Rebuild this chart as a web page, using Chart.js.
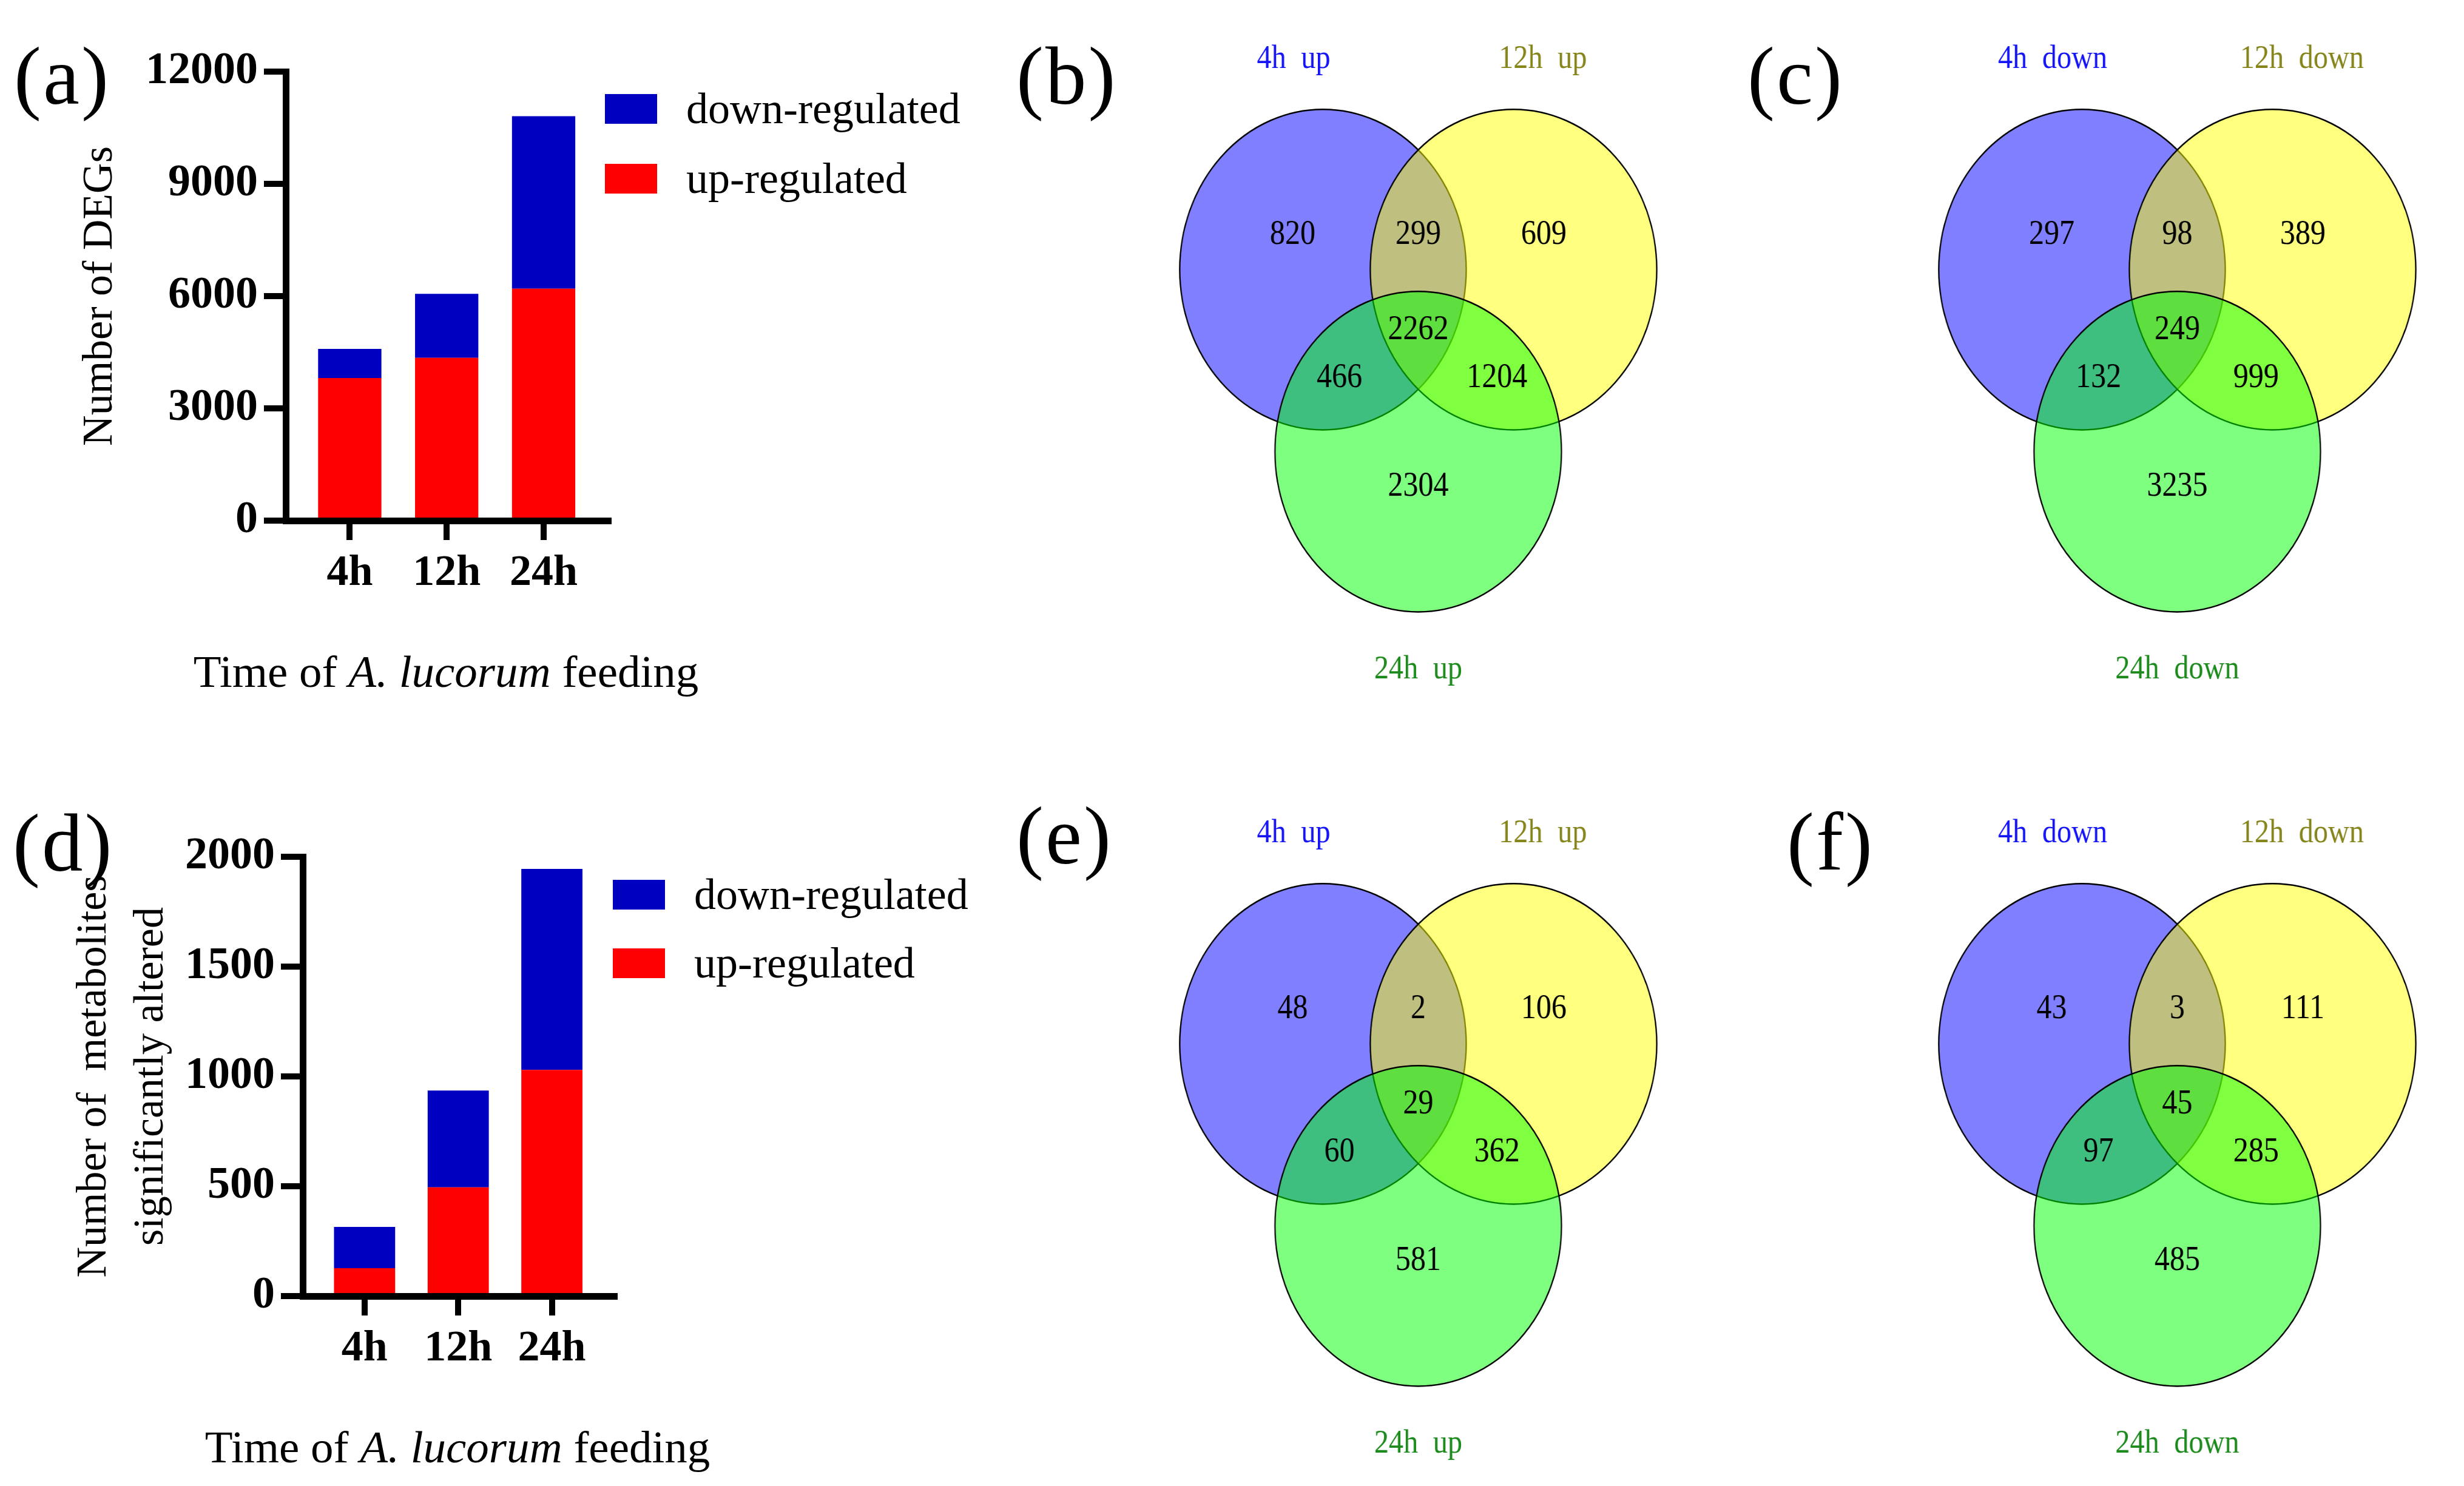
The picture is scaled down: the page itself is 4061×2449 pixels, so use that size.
<!DOCTYPE html>
<html>
<head>
<meta charset="utf-8">
<script src="https://cdn.jsdelivr.net/npm/chart.js@4.4.0/dist/chart.umd.min.js"></script>
<style>
  body { margin: 0; width: 4061px; height: 2449px; background: #fff; position: relative; overflow: hidden;
         font-family: "Liberation Serif", "Times New Roman", serif; color: #000; }
  .box { position: absolute; }
  .tag { position: absolute; font-size: 135px; line-height: 1; letter-spacing: 3px; }
  .xtitle { position: absolute; width: 900px; text-align: center; font-size: 75px; line-height: 1; white-space: nowrap; }
  .legend { position: absolute; font-size: 72px; }
  .lg-row { display: flex; align-items: center; height: 49px; white-space: nowrap; }
  .lg-sw { display: inline-block; width: 86px; height: 49px; margin-right: 48px; }
  .venn { position: absolute; width: 1162px; height: 1162px; transform: scaleX(0.894); transform-origin: 0 0; }
</style>
</head>
<body>

<div class="tag" style="left:23px;top:58px">(a)</div>
<div class="tag" style="left:1675px;top:58px">(b)</div>
<div class="tag" style="left:2880px;top:58px">(c)</div>
<div class="tag" style="left:21px;top:1322px">(d)</div>
<div class="tag" style="left:1675px;top:1310px">(e)</div>
<div class="tag" style="left:2945px;top:1320px">(f)</div>

<div class="box" style="left:0;top:0;width:1040px;height:1000px"><canvas id="chartA"></canvas></div>
<div class="box" style="left:0;top:1294px;width:1050px;height:984px"><canvas id="chartD"></canvas></div>

<div class="legend" id="legendA" style="left:997px;top:155px"></div>
<div class="legend" id="legendD" style="left:1010px;top:1450px"></div>

<div class="xtitle" style="left:285px;top:1069px">Time of <i>A. lucorum</i> feeding</div>
<div class="xtitle" style="left:304px;top:2347px">Time of <i>A. lucorum</i> feeding</div>

<div class="venn" style="left:1818px;top:3px"><canvas id="vennB"></canvas></div>
<div class="venn" style="left:3069px;top:3px"><canvas id="vennC"></canvas></div>
<div class="venn" style="left:1818px;top:1279px"><canvas id="vennE"></canvas></div>
<div class="venn" style="left:3069px;top:1279px"><canvas id="vennF"></canvas></div>

<script>
// bar charts (a) and (d)
const timeLabels = ['4h', '12h', '24h'];
const timeIndex = [1, 2, 3];
const seriesNames = ['up-regulated', 'down-regulated'];
const seriesColors = ['#ff0000', '#0000c0'];

const degUp = [3810, 4350, 6200];
const degDown = [780, 1710, 4610];
const degTicks = [0, 3000, 6000, 9000, 12000];

const metUp = [127, 495, 1030];
const metDown = [188, 441, 915];
const metTicks = [0, 500, 1000, 1500, 2000];

// venn diagrams (b) (c) (e) (f): set centres and region label spots in radius units
const vennSetX = [-0.665, 0.665, 0];
const vennSetY = [0.379, 0.379, -0.757];
const vennRadius = 1;
const vennFill = ['rgba(0,0,255,0.5)', 'rgba(255,255,0,0.5)', 'rgba(0,255,0,0.5)'];
const regionX = [-0.877, 0, 0.877, 0, -0.55, 0.55, 0];
const regionY = [0.595, 0.595, 0.595, 0, -0.30, -0.30, -0.977];
const countsB = [820, 299, 609, 2262, 466, 1204, 2304];
const countsC = [297, 98, 389, 249, 132, 999, 3235];
const countsE = [48, 2, 106, 29, 60, 362, 581];
const countsF = [43, 3, 111, 45, 97, 285, 485];
const setNamesUp = ['4h up', '12h up', '24h up'];
const setNamesDown = ['4h down', '12h down', '24h down'];
const setTitleX = [-0.87, 0.87, 0];
const setTitleY = [1.69, 1.69, -2.12];
const setTitleColors = ['#1414f5', '#85851c', '#1c8a1c'];

Chart.defaults.font.family = '"Liberation Serif", "Times New Roman", serif';
Chart.defaults.color = '#000';

function barChart(id, up, down, ticks, yTitle, axisLeft, titlePad, titleLine) {
    const values = [up, down];
    return new Chart(document.getElementById(id), {
        type: 'bar',
        data: {
            datasets: values.map((v, s) => ({
                label: seriesNames[s],
                data: timeIndex.map((x, i) => ({ x: x, y: v[i] })),
                backgroundColor: seriesColors[s],
                borderWidth: 0,
                categoryPercentage: 1,
                barPercentage: 0.653
            }))
        },
        options: {
            responsive: true,
            maintainAspectRatio: false,
            animation: false,
            events: [],
            layout: { padding: { top: 118, right: 37, left: 0, bottom: 0 } },
            scales: {
                x: {
                    type: 'linear',
                    stacked: true,
                    offset: false,
                    bounds: 'data',
                    min: 0.34,
                    max: 3.67,
                    afterBuildTicks: s => { s.ticks = timeIndex.map(v => ({ value: v })); },
                    afterFit: s => { s.height = 142; },
                    ticks: {
                        callback: v => timeLabels[timeIndex.indexOf(v)],
                        font: { size: 72, weight: 'bold' },
                        padding: 12,
                        maxRotation: 0,
                        autoSkip: false
                    },
                    grid: { offset: false, drawOnChartArea: false, drawTicks: true, tickLength: 32, tickWidth: 10, tickColor: '#000', lineWidth: 10, color: '#000' },
                    border: { display: true, width: 11, color: '#000' }
                },
                y: {
                    stacked: true,
                    min: ticks[0],
                    max: ticks[ticks.length - 1],
                    afterBuildTicks: s => { s.ticks = ticks.map(v => ({ value: v })); },
                    afterFit: s => { s.width = axisLeft; },
                    ticks: { font: { size: 74, weight: 'bold' }, padding: 10, callback: v => String(v) },
                    grid: { drawOnChartArea: false, drawTicks: true, tickLength: 36, tickWidth: 10, tickColor: '#000', lineWidth: 10, color: '#000' },
                    border: { display: true, width: 11, color: '#000' },
                    title: {
                        display: true,
                        text: yTitle,
                        font: { size: 70, lineHeight: titleLine },
                        padding: { top: titlePad, bottom: 0 }
                    }
                }
            },
            plugins: { legend: { display: false }, tooltip: { enabled: false } }
        }
    });
}

function drawLegend(id) {
    const box = document.getElementById(id);
    [1, 0].forEach((s, k) => {
        const row = document.createElement('div');
        row.className = 'lg-row';
        if (k > 0) row.style.marginTop = id === 'legendA' ? '66px' : '64px';
        row.innerHTML = '<span class="lg-sw" style="background:' + seriesColors[s] + '"></span><span>' + seriesNames[s] + '</span>';
        box.appendChild(row);
    });
}

function vennChart(id, counts, names) {
    const unitPx = c => Math.abs(c.chart.scales.x.getPixelForValue(vennRadius) - c.chart.scales.x.getPixelForValue(0));
    return new Chart(document.getElementById(id), {
        type: 'scatter',
        data: {
            datasets: [{
                data: vennSetX.map((x, i) => ({ x: x, y: vennSetY[i] })),
                showLine: false,
                pointBackgroundColor: vennFill,
                pointBorderColor: '#000',
                pointBorderWidth: 2.5,
                pointRadius: unitPx,
                pointHoverRadius: unitPx,
                clip: false
            }]
        },
        options: {
            responsive: true,
            maintainAspectRatio: false,
            animation: false,
            events: [],
            layout: { padding: 0, autoPadding: false },
            scales: {
                x: { type: 'linear', min: -2.2, max: 2.2, display: false },
                y: { type: 'linear', min: -2.35, max: 2.05, display: false }
            },
            plugins: { legend: { display: false }, tooltip: { enabled: false } }
        },
        plugins: [{
            id: 'vennText',
            afterDatasetsDraw(chart) {
                const { ctx, scales: { x, y } } = chart;
                ctx.save();
                ctx.textAlign = 'center';
                ctx.textBaseline = 'middle';
                ctx.fillStyle = '#000';
                ctx.font = '56px "Liberation Serif", serif';
                counts.forEach((n, i) => {
                    ctx.fillText(String(n), x.getPixelForValue(regionX[i]), y.getPixelForValue(regionY[i]));
                });
                ctx.font = '54px "Liberation Serif", serif';
                ctx.wordSpacing = '14px';
                names.forEach((t, i) => {
                    ctx.fillStyle = setTitleColors[i];
                    ctx.fillText(t, x.getPixelForValue(setTitleX[i]), y.getPixelForValue(setTitleY[i]));
                });
                ctx.restore();
            }
        }]
    });
}

barChart('chartA', degUp, degDown, degTicks, 'Number of DEGs', 471, 124, 1.2);
barChart('chartD', metUp, metDown, metTicks, ['Number of  metabolites', 'significantly altered'], 499, 108, 1.35);
drawLegend('legendA');
drawLegend('legendD');

vennChart('vennB', countsB, setNamesUp);
vennChart('vennC', countsC, setNamesDown);
vennChart('vennE', countsE, setNamesUp);
vennChart('vennF', countsF, setNamesDown);
</script>
</body>
</html>
